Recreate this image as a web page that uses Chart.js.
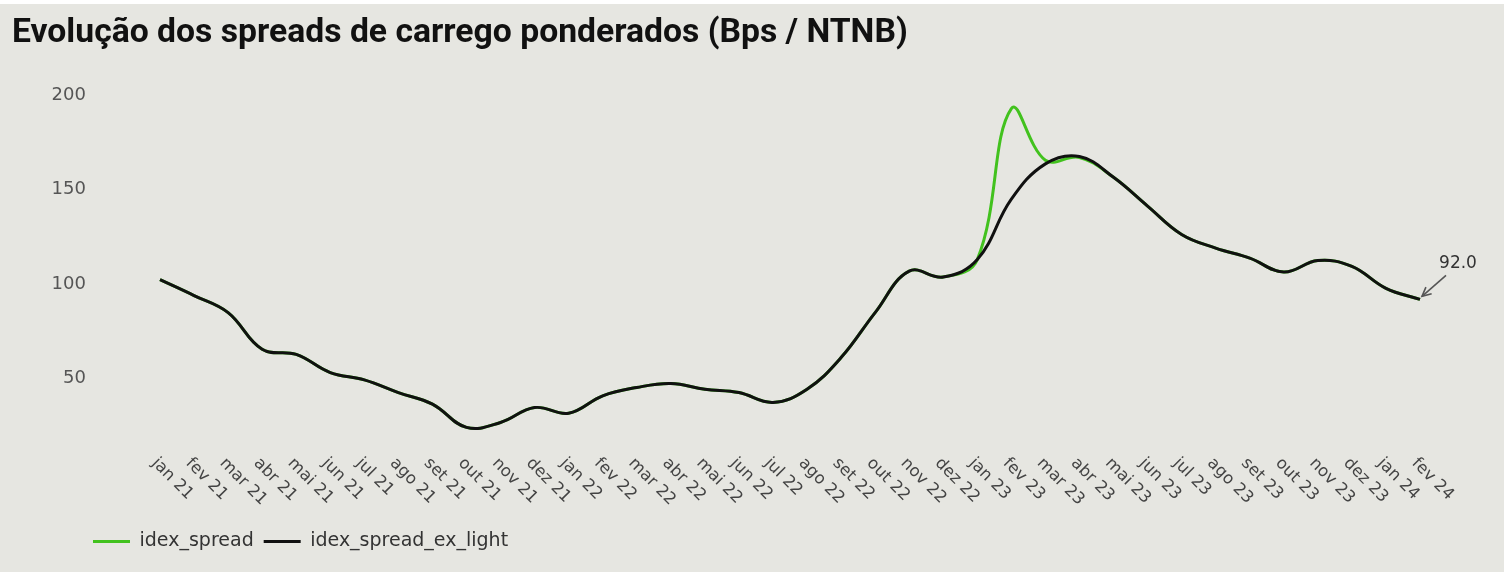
<!DOCTYPE html>
<html><head><meta charset="utf-8">
<script src="https://cdn.jsdelivr.net/npm/chart.js@4.4.1/dist/chart.umd.min.js"></script>
<style>
html,body{margin:0;padding:0;background:#fff;}
#wrap{position:relative;width:1508px;height:574px;overflow:hidden;}
#panel{position:absolute;left:0;top:4px;width:1504px;height:568px;background:#e6e6e1;}
#c{position:absolute;left:0;top:0;}
#title{position:absolute;left:12px;top:17px;font-family:Roboto,"Liberation Sans",sans-serif;font-weight:700;font-size:28px;line-height:28px;color:#111;white-space:nowrap;}
</style></head><body>
<div id="wrap"><div id="panel"></div><canvas id="c" width="1508" height="574"></canvas><div id="title">Evolução dos spreads de carrego ponderados (Bps / NTNB)</div></div>
<script>
const labels = ['jan 21','fev 21','mar 21','abr 21','mai 21','jun 21','jul 21','ago 21','set 21','out 21','nov 21','dez 21',
  'jan 22','fev 22','mar 22','abr 22','mai 22','jun 22','jul 22','ago 22','set 22','out 22','nov 22','dez 22',
  'jan 23','fev 23','mar 23','abr 23','mai 23','jun 23','jul 23','ago 23','set 23','out 23','nov 23','dez 23',
  'jan 24','fev 24'];
const idexSpread = [102.4,94,85,65.6,62.9,53.3,49.4,42.7,36.6,24.3,26.9,34.8,
  31.8,41,45.4,47.5,44.5,42.7,37.5,44.5,61.2,85,106.9,103.8,
  113,192.8,165.5,167,156.5,141.3,126.3,119.1,113.8,106.4,112.5,109.4,
  97.8,92.0];
const idexSpreadExLight = [102.4,94,85,65.6,62.9,53.3,49.4,42.7,36.6,24.3,26.9,34.8,
  31.8,41,45.4,47.5,44.5,42.7,37.5,44.5,61.2,85,106.9,103.8,
  113,144.9,163.6,167.5,156.5,141.3,126.3,119.1,113.8,106.4,112.5,109.4,
  97.8,92.0];
const yTicks = [50,100,150,200];

// fit title width
(function(){
  const t=document.getElementById('title');
  const w=t.getBoundingClientRect().width;
  t.style.fontSize=(28*896/w).toFixed(2)+'px';
})();

const xLabelPlugin = {
  id:'xLabels',
  afterDraw(chart){
    const {ctx, chartArea} = chart;
    const x = chart.scales.x;
    ctx.save();
    ctx.font = '16.5px "DejaVu Sans"';
    ctx.fillStyle = '#444';
    ctx.textAlign = 'left';
    ctx.textBaseline = 'top';
    labels.forEach((lab,i)=>{
      const px = x.getPixelForValue(i);
      ctx.save();
      ctx.translate(px, chartArea.bottom + 10);
      ctx.rotate(Math.PI/4);
      ctx.fillText(lab,0,0);
      ctx.restore();
    });
    ctx.restore();
  }
};

const lastLabelPlugin = {
  id:'lastLabel',
  afterDatasetsDraw(chart){
    const meta = chart.getDatasetMeta(1);
    const pt = meta.data[meta.data.length-1];
    const value = idexSpreadExLight[idexSpreadExLight.length-1];
    const {ctx} = chart;
    const tx = pt.x + 2, ty = pt.y - 3;
    const sx = pt.x + 26, sy = pt.y - 24;
    ctx.save();
    ctx.strokeStyle = '#555';
    ctx.lineWidth = 1.6;
    ctx.beginPath(); ctx.moveTo(sx,sy); ctx.lineTo(tx,ty); ctx.stroke();
    const ang = Math.atan2(ty-sy, tx-sx), L = 10, a = 0.45;
    ctx.beginPath();
    ctx.moveTo(tx - L*Math.cos(ang-a), ty - L*Math.sin(ang-a));
    ctx.lineTo(tx,ty);
    ctx.lineTo(tx - L*Math.cos(ang+a), ty - L*Math.sin(ang+a));
    ctx.stroke();
    ctx.font = '17px "DejaVu Sans"';
    ctx.fillStyle = '#333';
    ctx.textAlign = 'center';
    ctx.textBaseline = 'middle';
    ctx.fillText(value.toFixed(1), pt.x + 38, pt.y - 36);
    ctx.restore();
  }
};

new Chart(document.getElementById('c'), {
  type:'line',
  data:{
    labels: labels,
    datasets:[
      {label:'idex_spread', data:idexSpread, borderColor:'#42c21e', backgroundColor:'#42c21e', borderWidth:3, pointRadius:0, tension:0.4, order:1, pointStyle:'line'},
      {label:'idex_spread_ex_light', data:idexSpreadExLight, borderColor:'#111111', backgroundColor:'#111111', borderWidth:3, pointRadius:0, tension:0.4, order:0, pointStyle:'line'}
    ]
  },
  options:{
    responsive:false,
    animation:false,
    devicePixelRatio:1,
    layout:{padding:{left:83, right:88, top:95, bottom:13}},
    plugins:{
      title:{display:false},
      tooltip:{enabled:false},
      legend:{
        position:'bottom', align:'start',
        labels:{
          usePointStyle:true, pointStyle:'line', pointStyleWidth:37,
          color:'#333', font:{family:'DejaVu Sans', size:19}, padding:10,
          sort:(a,b)=>a.datasetIndex-b.datasetIndex
        }
      }
    },
    scales:{
      x:{
        grid:{display:false, drawTicks:false}, border:{display:false},
        ticks:{display:false},
        afterFit(s){ s.height = 77; }
      },
      y:{
        min:15, max:200,
        grid:{display:false, drawTicks:false}, border:{display:false},
        afterBuildTicks(s){ s.ticks = yTicks.map(v=>({value:v})); },
        ticks:{mirror:true, crossAlign:'far', padding:-108.4, color:'#555', font:{family:'DejaVu Sans', size:18}},
        afterFit(s){ s.width = 77; }
      }
    }
  },
  plugins:[xLabelPlugin, lastLabelPlugin]
});
</script>
</body></html>
